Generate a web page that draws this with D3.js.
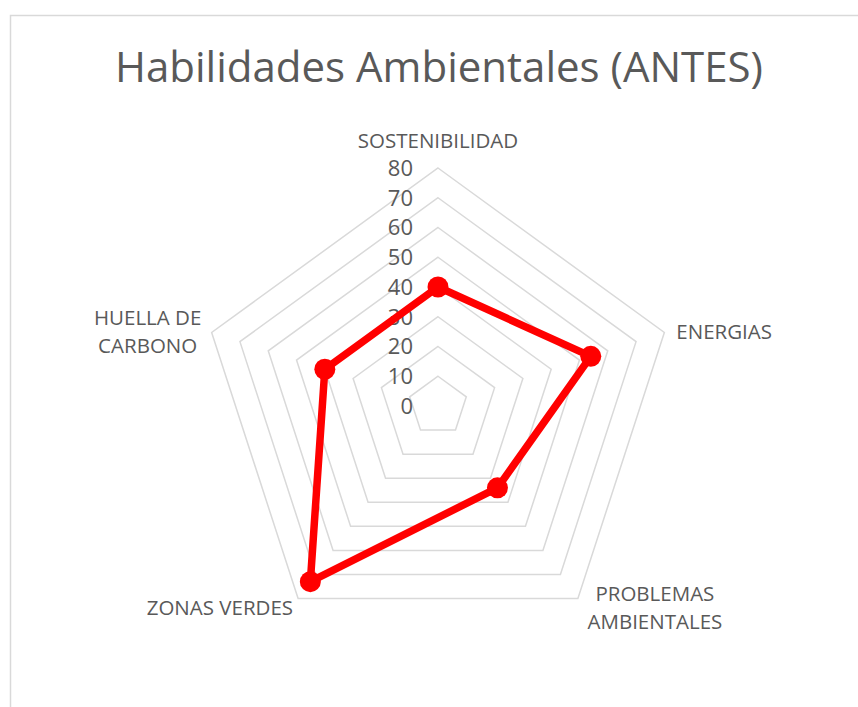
<!DOCTYPE html>
<html>
<head>
<meta charset="utf-8">
<script src="https://cdn.jsdelivr.net/npm/d3@7"></script>
<style>
  body { margin: 0; background: #fff; }
  text { font-family: "Open Sans", sans-serif; fill: #595959; }
</style>
</head>
<body>
<div id="chart"></div>
<script>
// data
var categories = ["SOSTENIBILIDAD", "ENERGIAS", "PROBLEMAS AMBIENTALES", "ZONAS VERDES", "HUELLA DE CARBONO"];
var values = [40, 54, 34, 73, 40];
var ticks = [0, 10, 20, 30, 40, 50, 60, 70, 80];
var title = "Habilidades Ambientales (ANTES)";

var width = 858, height = 707;
var cx = 438, cy = 406, radius = 238;

var svg = d3.select("#chart")
  .append("svg")
    .attr("width", width)
    .attr("height", height);

// chart border
svg.append("rect")
  .attr("x", 10.5).attr("y", 15.5)
  .attr("width", 900).attr("height", 800)
  .attr("fill", "none")
  .attr("stroke", "#d9d9d9")
  .attr("stroke-width", 1.5);

svg.append("text")
  .text(title)
  .attr("x", cx + 1)
  .attr("y", 82)
  .attr("text-anchor", "middle")
  .style("font-size", "42px");

var r = d3.scaleLinear()
  .domain([0, 80])
  .range([0, radius]);

var angle = d3.scalePoint()
  .domain(categories)
  .range([0, 2 * Math.PI * (categories.length - 1) / categories.length]);

var g = svg.append("g")
  .attr("transform", "translate(" + cx + "," + cy + ")");

var radial = d3.lineRadial()
  .curve(d3.curveLinearClosed);

// pentagon grid
g.selectAll(".grid")
  .data(ticks.filter(function(t) { return t > 0; }))
  .enter().append("path")
    .attr("class", "grid")
    .attr("d", function(t) {
      return radial(categories.map(function(c) { return [angle(c), r(t)]; }));
    })
    .attr("fill", "none")
    .attr("stroke", "#d9d9d9")
    .attr("stroke-width", 1.5);

// tick labels along the top axis
g.selectAll(".tick")
  .data(ticks)
  .enter().append("text")
    .attr("class", "tick")
    .text(function(t) { return t; })
    .attr("x", -25)
    .attr("y", function(t) { return -r(t); })
    .attr("dy", "0.36em")
    .attr("text-anchor", "end")
    .style("font-size", "22px");

// category labels
function wrap(s) {
  if (s.length <= 14) return [s];
  var lines = [], cur = "";
  s.split(" ").forEach(function(w) {
    if (cur && (cur + " " + w).length > 12) { lines.push(cur); cur = w; }
    else cur = cur ? cur + " " + w : w;
  });
  lines.push(cur);
  return lines;
}

var lineH = 28;
categories.forEach(function(c) {
  var a = angle(c);
  var vx = Math.sin(a) * (radius), vy = -Math.cos(a) * (radius);
  var sx = Math.sin(a), sy = -Math.cos(a);
  var anchor = Math.abs(sx) < 0.1 ? "middle" : (sx > 0 ? "start" : "end");
  var lines = wrap(c);
  var lx, ly;
  if (anchor === "middle") { lx = vx; ly = vy - 20 - (lines.length - 1) * lineH; }
  else if (sy < 0) { lx = vx + (sx > 0 ? 12 : -12); ly = vy - (lines.length - 1) * lineH / 2 + 7; }
  else { lx = vx + (sx > 0 ? 7 : -5); ly = vy - (lines.length - 1) * lineH / 2 + 16; }
  var t = g.append("text")
    .attr("text-anchor", anchor)
    .style("font-size", "20.5px");
  lines.forEach(function(l, i) {
    var ts = t.append("tspan").text(l).attr("y", ly + i * lineH);
    if (sx > 0.1 && sy > 0 && lines.length > 1) {
      ts.attr("text-anchor", "middle").attr("x", lx + 70);
    } else if (sx < -0.1 && lines.length > 1) {
      ts.attr("text-anchor", "middle").attr("x", lx - 52);
    } else {
      ts.attr("x", lx);
    }
  });
});

// the series
var pts = categories.map(function(c, i) { return [angle(c), r(values[i])]; });

g.append("path")
  .attr("d", radial(pts))
  .attr("fill", "none")
  .attr("stroke", "#ff0000")
  .attr("stroke-width", 7.5)
  .attr("stroke-linejoin", "round");

g.selectAll(".dot")
  .data(pts)
  .enter().append("circle")
    .attr("class", "dot")
    .attr("cx", function(d) { return Math.sin(d[0]) * d[1]; })
    .attr("cy", function(d) { return -Math.cos(d[0]) * d[1]; })
    .attr("r", 10.5)
    .attr("fill", "#ff0000");
</script>
</body>
</html>
